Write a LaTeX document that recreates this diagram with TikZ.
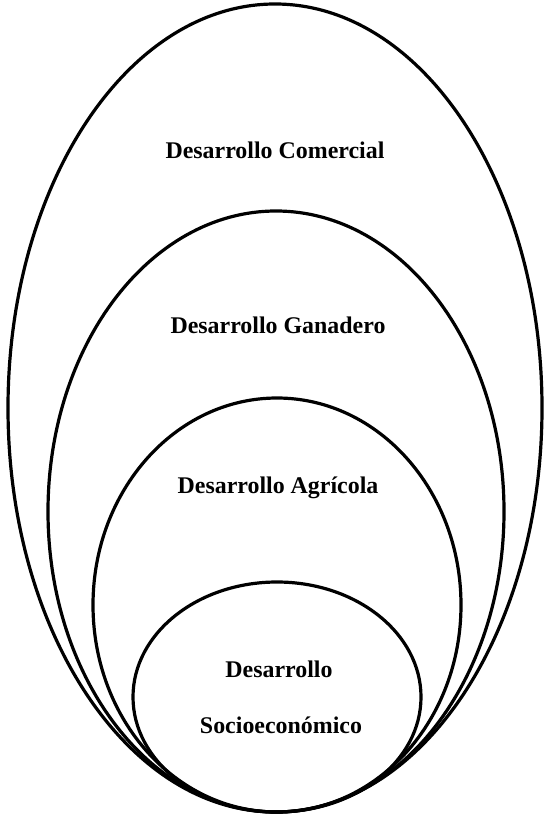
\documentclass[tikz,border=0pt]{standalone}
\usepackage{fontspec}
\setmainfont{Liberation Serif}
\begin{document}
\begin{tikzpicture}[x=1bp,y=-1bp,
  ring/.style={draw=black,line width=3.2bp},
  lbl/.style={anchor=base,inner sep=0pt,font=\fontsize{24}{28}\selectfont\bfseries}]
\useasboundingbox (0,0) rectangle (546,816);
\draw[ring] (275,408) ellipse [x radius=267bp, y radius=404bp];
\draw[ring] (276,511.5) ellipse [x radius=228bp, y radius=300.5bp];
\draw[ring] (277,605) ellipse [x radius=184bp, y radius=207bp];
\draw[ring] (277,697) ellipse [x radius=144bp, y radius=115bp];
\node[lbl] (com) at (275,158) {Desarrollo Comercial};
\node[lbl] (gan) at (278,333) {Desarrollo Ganadero};
\node[lbl] (agr) at (278,493) {Desarrollo Agrícola};
\node[lbl] (des) at (279,677) {Desarrollo};
\node[lbl] (soc) at (281,733) {Socioeconómico};
\end{tikzpicture}
\end{document}
